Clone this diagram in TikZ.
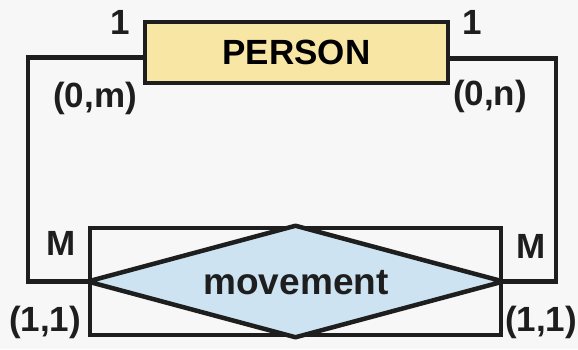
\documentclass[tikz,border=0pt]{standalone}
\usepackage{fontspec}
\setmainfont{Liberation Sans}
\usepackage{xcolor}
\usetikzlibrary{positioning}

\definecolor{entfill}{RGB}{248,230,165}
\definecolor{relfill}{RGB}{205,227,242}
\definecolor{ink}{RGB}{30,30,30}

\begin{document}
\begin{tikzpicture}[
  x=1pt, y=-1pt,
  entity/.style={draw=ink, line width=4.5pt, fill=entfill, inner sep=0pt,
    minimum width=303pt, minimum height=61pt,
    font=\fontsize{35}{40}\selectfont\bfseries},
  assocbox/.style={draw=ink, line width=4.5pt, inner sep=0pt,
    minimum width=411pt, minimum height=107pt},
  relship/.style={draw=ink, line width=4.5pt, fill=relfill, line join=bevel},
  reltext/.style={text=ink, inner sep=0pt, font=\fontsize{37}{42}\selectfont\bfseries},
  card/.style={text=ink, inner sep=0pt, font=\fontsize{35}{40}\selectfont\bfseries},
  conn/.style={draw=ink, line width=4.5pt}
]
\fill[white!97!black] (0,0) rectangle (578,349);
\useasboundingbox (0,0) rectangle (578,349);

\node[entity] (person) at (296.5,52.5) {PERSON};
\node[assocbox] (assoc) at (295.5,281.5) {};
\path[relship] (assoc.west) -- (assoc.north) -- (assoc.east) -- (assoc.south) -- cycle;
\node[reltext] (movement) at (296,283) {movement};

\coordinate (lx) at (28,0);
\coordinate (rx) at (556,0);
\draw[conn] ([yshift=-5pt]person.west) -- ([yshift=-5pt]person.west -| lx)
  -- (assoc.west -| lx) -- (assoc.west);
\draw[conn] ([yshift=-6pt]person.east) -- ([yshift=-6pt]person.east -| rx)
  -- (assoc.east -| rx) -- (assoc.east);

\node[card] (onel) at (120,22) {1};
\node[card] (oner) at (472,22) {1};
\node[card] (zerom) at (95,98) {(0,m)};
\node[card] (zeron) at (490,96) {(0,n)};
\node[card] (bigml) at (61,243) {M};
\node[card] (bigmr) at (531,246) {M};
\node[card] (onel2) at (45,322) {(1,1)};
\node[card] (oner2) at (541,322) {(1,1)};
\end{tikzpicture}
\end{document}
